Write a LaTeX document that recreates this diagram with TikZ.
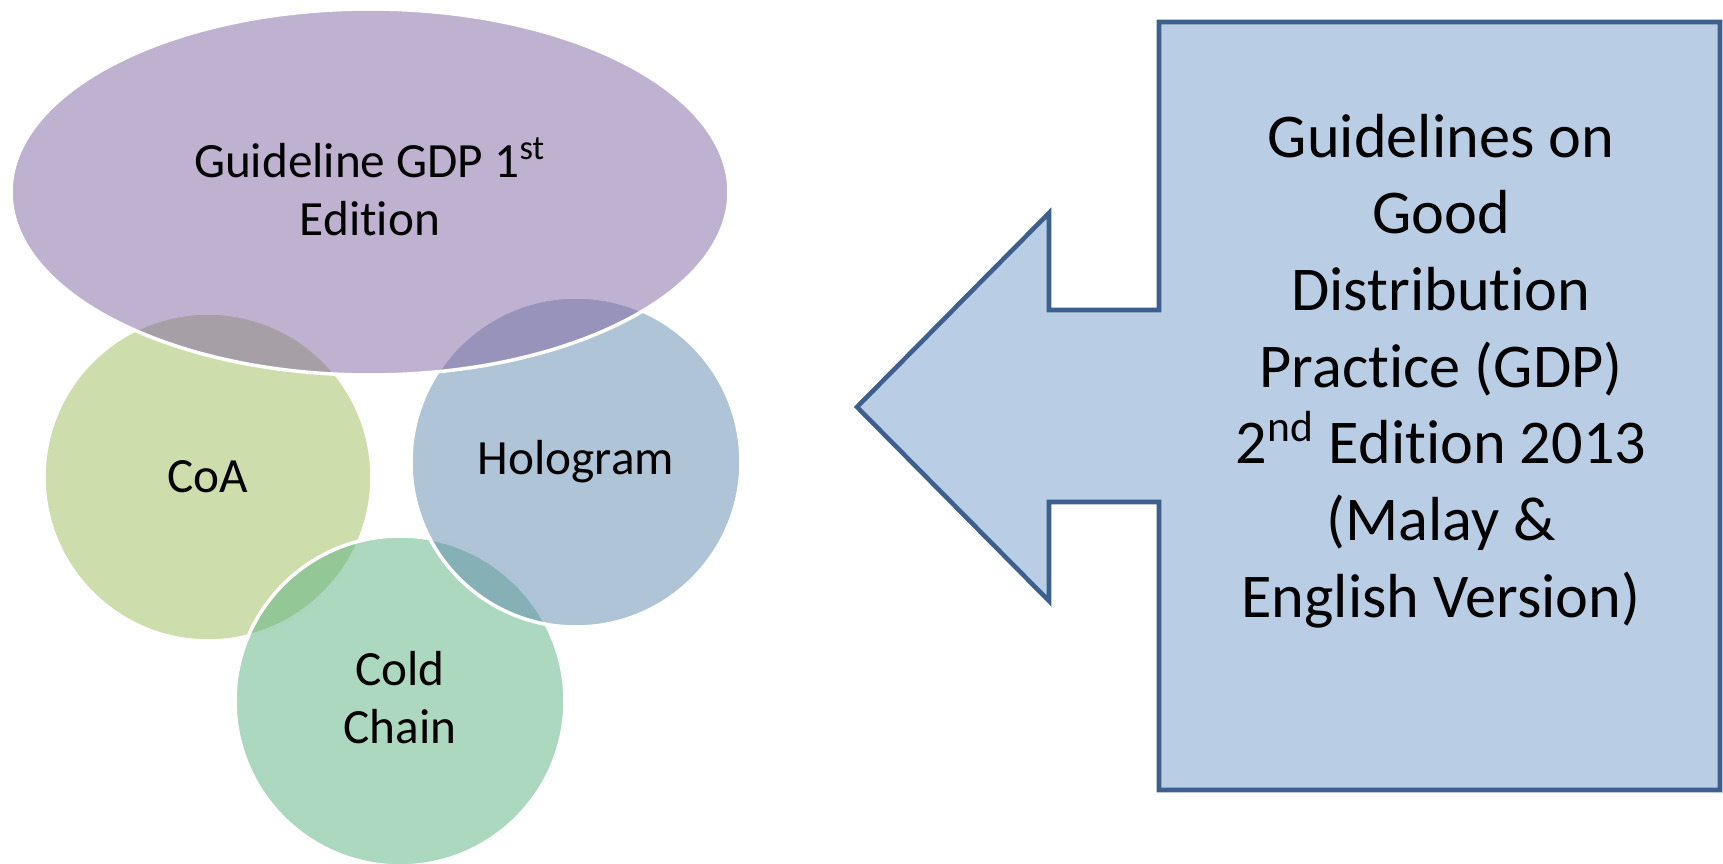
\documentclass[tikz,border=0pt]{standalone}
\usepackage{fontspec}
\setmainfont{Carlito}[Ligatures=NoCommon]
\usepackage{tikz}
\usetikzlibrary{calc}

\definecolor{gdppurple}{HTML}{8064A2}
\definecolor{coagreen}{HTML}{9BBB59}
\definecolor{holoblue}{HTML}{5F89AD}
\definecolor{coldgreen}{HTML}{59B181}
\definecolor{calloutfill}{HTML}{B9CDE5}
\definecolor{calloutline}{HTML}{3C5F8E}

\begin{document}
\begin{tikzpicture}[x=0.01cm, y=-0.01cm,
    bubble/.style={draw=white, line width=1pt, fill opacity=0.5},
    bubbletext/.style={align=center, text=black, font=\fontsize{14}{16.5}\selectfont},
    calloutbox/.style={draw=calloutline, line width=1.3pt, fill=calloutfill, line join=miter}]
        \useasboundingbox (0,0) rectangle (1723,864);

        \coordinate (G) at (370, 192);
        \coordinate (C) at (208, 477);
        \coordinate (H) at (576, 462);
        \coordinate (K) at (400, 701);

        % callout corners
        \coordinate (tip) at (857, 407);
        \coordinate (headT) at (1049, 213);
        \coordinate (headB) at (1049, 601);
        \coordinate (neckT) at (1049, 310);
        \coordinate (neckB) at (1049, 502);
        \coordinate (boxNW) at (1159, 22);
        \coordinate (boxSE) at (1720, 790);

        \draw[bubble, fill=coagreen] (C) circle (164);
        \draw[bubble, fill=coldgreen] (K) circle (165);
        \draw[bubble, fill=holoblue] (H) circle (165);
        \draw[bubble, fill=gdppurple] (G) circle [x radius=359, y radius=183];

        \node[bubbletext] (gdp1) at ($(G)+(0,-5)$) {Guideline GDP 1\textsuperscript{st}\\Edition};
        \node[bubbletext] (coa) at (C) {CoA};
        \node[bubbletext] (holo) at (H) {Hologram};
        \node[bubbletext] (cold) at ($(K)+(0,-3)$) {Cold\\Chain};

        \draw[calloutbox] (boxNW) -- (boxNW -| boxSE) -- (boxSE) -- (boxSE -| boxNW)
            -- (neckB -| boxNW) -- (neckB) -- (headB) -- (tip) -- (headT) -- (neckT)
            -- (neckT -| boxNW) -- cycle;

        \node[align=center, font=\fontsize{17.7}{21.8}\selectfont] (gdp2) at (1441, 371)
            {Guidelines on\\Good\\Distribution\\Practice (GDP)\\2\textsuperscript{nd} Edition 2013\\(Malay \&\\English Version)};
    \end{tikzpicture}
\end{document}
